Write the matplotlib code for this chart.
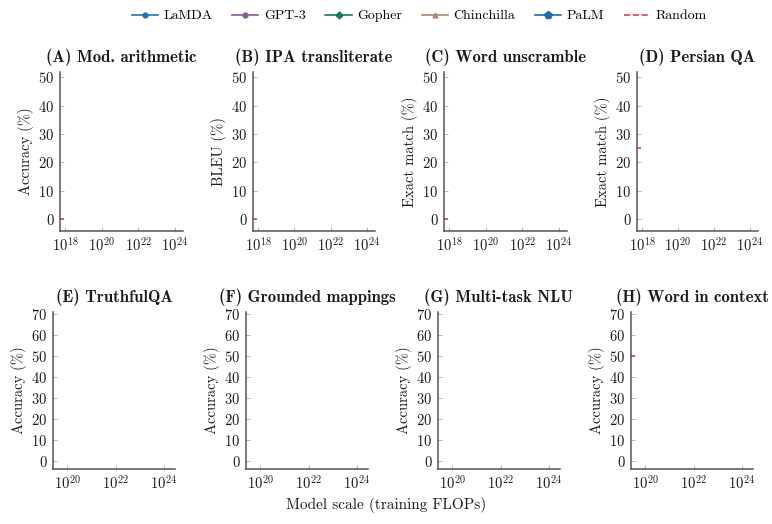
import matplotlib
matplotlib.use("Agg")
import matplotlib.pyplot as plt
from matplotlib.lines import Line2D

plt.rcParams['font.family'] = ['cmr10', 'DejaVu Serif']
plt.rcParams['mathtext.fontset'] = 'cm'
plt.rcParams['axes.formatter.use_mathtext'] = True

# panel titles and y-axis labels
titles = ['(A) Mod. arithmetic', '(B) IPA transliterate', '(C) Word unscramble', '(D) Persian QA',
          '(E) TruthfulQA', '(F) Grounded mappings', '(G) Multi-task NLU', '(H) Word in context']
ylabels = ['Accuracy (%)', 'BLEU (%)', 'Exact match (%)', 'Exact match (%)',
           'Accuracy (%)', 'Accuracy (%)', 'Accuracy (%)', 'Accuracy (%)']

# model series (no points visible in the picture)
models = ['LaMDA', 'GPT-3', 'Gopher', 'Chinchilla', 'PaLM']
model_colors = ['#2a6fb0', '#8a5a9a', '#1d7a4e', '#b08a72', '#1f6cb5']
model_markers = ['o', 'o', 'D', '^', 'p']
model_flops = [[] for _ in titles]
model_scores = [[] for _ in titles]

# random baseline per panel (None = not shown)
random_baseline = [0, 0, 0, 25, None, None, None, 50]
random_x_top = [10**17.7, 10**17.95]
random_x_bottom = [10**19.4, 10**19.6]

top_xticks = [1e18, 1e20, 1e22, 1e24]
bottom_xticks = [1e20, 1e22, 1e24]
top_yticks = [0, 10, 20, 30, 40, 50]
bottom_yticks = [0, 10, 20, 30, 40, 50, 60, 70]

W, H = 772, 524
fig = plt.figure(figsize=(W / 100, H / 100), dpi=100)

# (left, right, top, bottom) in pixels
boxes = [(60, 183, 72, 231), (253, 375, 72, 231), (444, 567, 72, 231), (637, 758, 72, 231),
         (53, 175, 312, 469), (246, 368, 312, 469), (438, 560, 312, 469), (631, 753, 312, 469)]

axis_col = '#555555'
text_col = '#1a1a1a'
red = '#e0405a'

for i, (l, r, t, b) in enumerate(boxes):
    ax = fig.add_axes([l / W, 1 - b / H, (r - l) / W, (b - t) / H])
    ax.set_xscale('log')
    top = i < 4
    if top:
        ax.set_xlim(10**17.72, 10**24.45)
        ax.set_ylim(-4.2, 51.8)
        ax.set_xticks(top_xticks)
        ax.set_yticks(top_yticks)
        rx = random_x_top
    else:
        ax.set_xlim(10**19.42, 10**24.45)
        ax.set_ylim(-3.8, 71)
        ax.set_xticks(bottom_xticks)
        ax.set_yticks(bottom_yticks)
        rx = random_x_bottom
    ax.minorticks_off()

    for m in range(len(models)):
        ax.plot(model_flops[i], model_scores[i], color=model_colors[m],
                marker=model_markers[m], ms=4)
    if random_baseline[i] is not None:
        ax.plot(rx, [random_baseline[i]] * 2, color=red, ls='--', lw=1.2, clip_on=False)

    for s in ['top', 'right']:
        ax.spines[s].set_visible(False)
    for s in ['left', 'bottom']:
        ax.spines[s].set_color(axis_col)
        ax.spines[s].set_linewidth(1.1)
    ax.tick_params(direction='in', length=3, width=0.6, color='#aaaaaa',
                   labelsize=10.5, labelcolor=text_col, pad=4)
    ax.set_title(titles[i], fontfamily='cmb10', fontsize=12, color=text_col, pad=7)
    ax.set_ylabel(ylabels[i], fontsize=10.5, color=text_col, labelpad=3)

fig.text(0.5, 1 - 505 / H, 'Model scale (training FLOPs)', ha='center', va='center',
         fontsize=11, color=text_col)

handles = [Line2D([], [], color=c, marker=mk, ms=(6 if mk == 'p' else 3.5), lw=1.2)
           for c, mk in zip(model_colors, model_markers)]
handles.append(Line2D([], [], color=red, ls='--', lw=1.2))
fig.legend(handles, models + ['Random'], loc='center', bbox_to_anchor=(0.543, 1 - 16 / H),
           ncol=6, frameon=False, fontsize=10, handlelength=1.9, columnspacing=1.4,
           handletextpad=0.4)

fig.savefig('out.png', dpi=100)
